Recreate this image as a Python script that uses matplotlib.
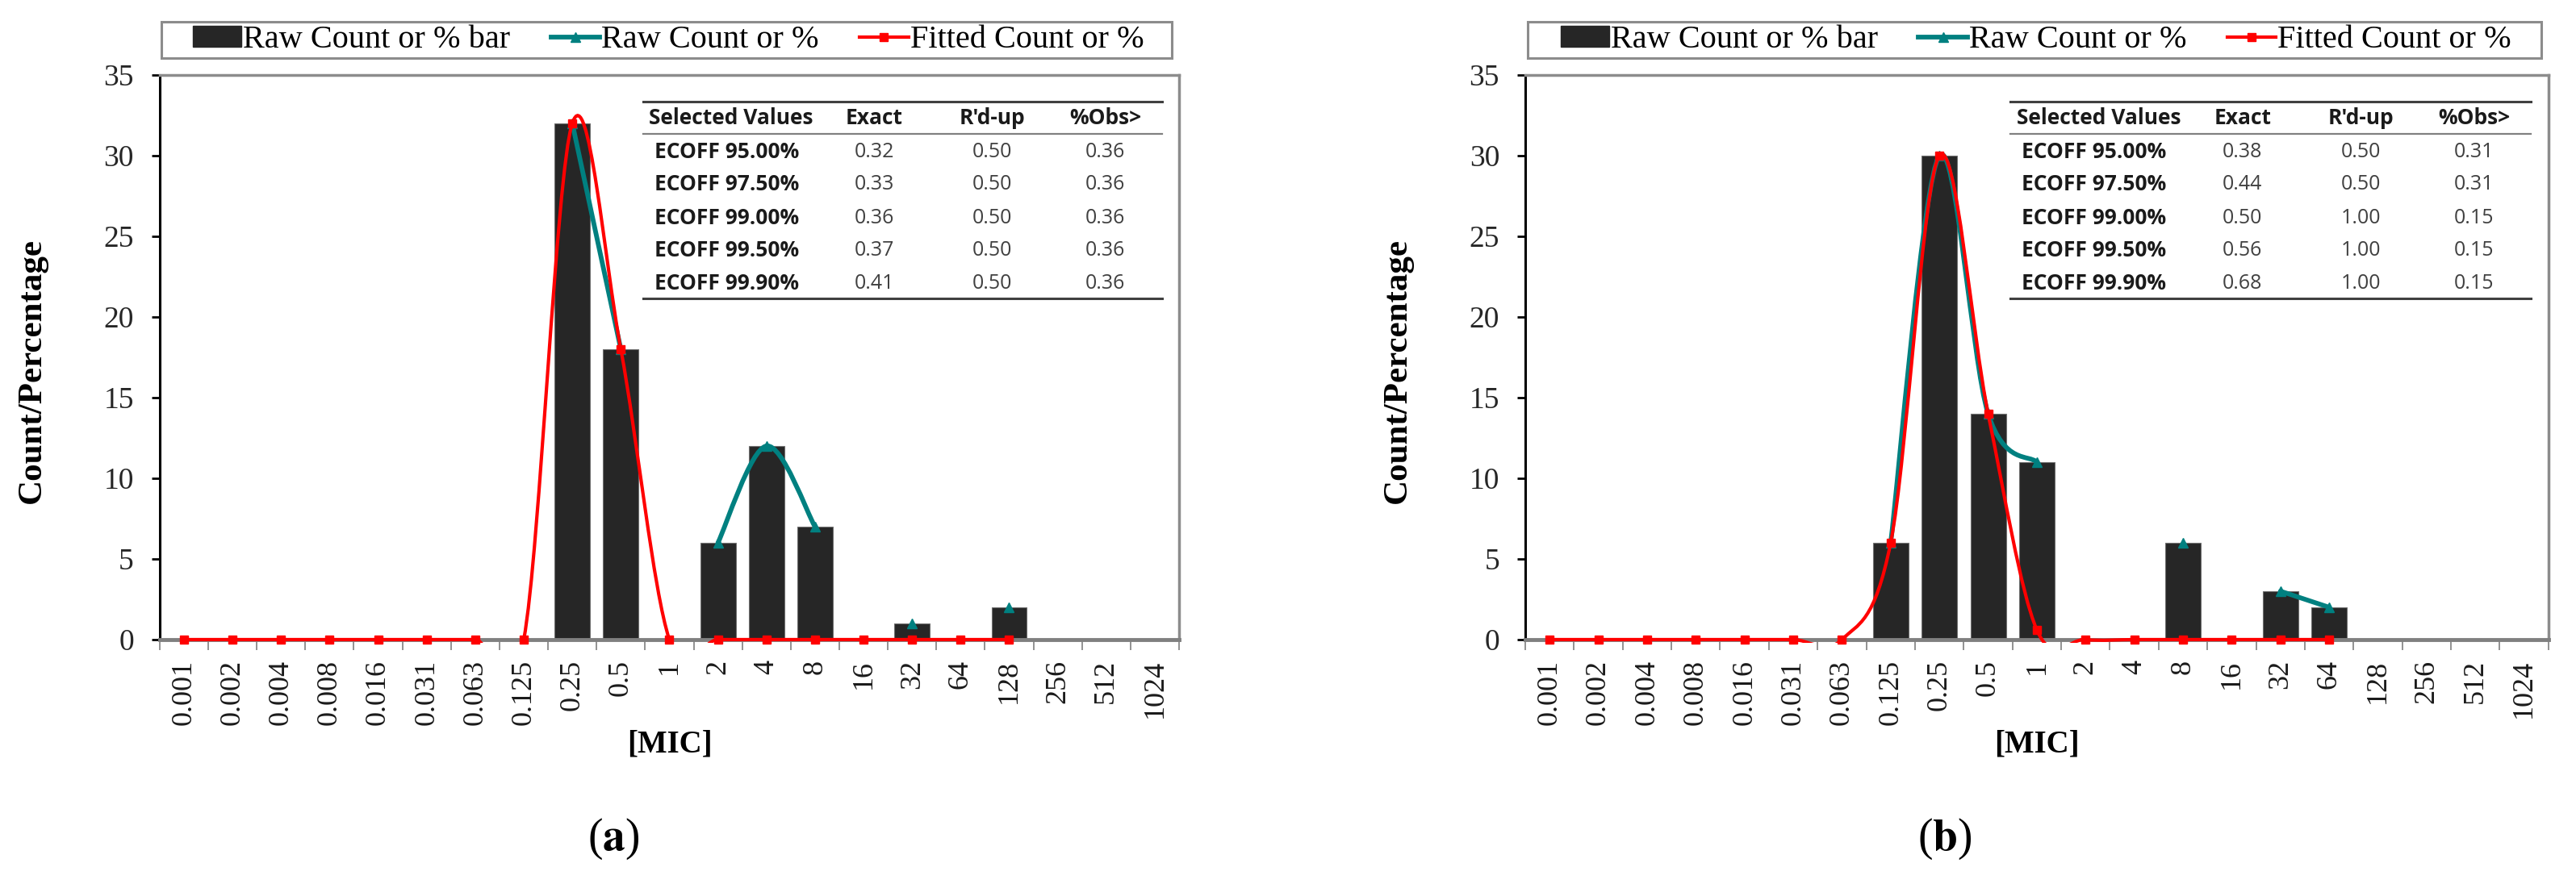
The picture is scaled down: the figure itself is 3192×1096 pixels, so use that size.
import numpy as np
import matplotlib
matplotlib.use("Agg")
import matplotlib.pyplot as plt
from matplotlib.path import Path
from matplotlib.patches import PathPatch, Rectangle, Patch
from matplotlib.lines import Line2D

plt.rcParams["font.family"] = ["Liberation Serif", "DejaVu Serif"]
plt.rcParams["mathtext.fontset"] = "stix"

# MIC categories (x axis)
mic_labels = ["0.001", "0.002", "0.004", "0.008", "0.016", "0.031", "0.063",
              "0.125", "0.25", "0.5", "1", "2", "4", "8", "16", "32", "64",
              "128", "256", "512", "1024"]

# panel (a)
raw_a = [0, 0, 0, 0, 0, 0, 0, 0, 32, 18, 0, 6, 12, 7, 0, 1, 0, 2, 0, 0, 0]
fit_a = [0, 0, 0, 0, 0, 0, 0, 0, 32, 18, 0, 0, 0, 0, 0, 0, 0, 0]
# panel (b)
raw_b = [0, 0, 0, 0, 0, 0, 0, 6, 30, 14, 11, 0, 0, 6, 0, 3, 2, 0, 0, 0, 0]
fit_b = [0, 0, 0, 0, 0, 0, 0, 6, 30, 14, 0.6, 0, 0, 0, 0, 0, 0]

# ECOFF tables
table_head = ["Selected Values", "Exact", "R'd-up", "%Obs>"]
ecoff_rows = ["ECOFF 95.00%", "ECOFF 97.50%", "ECOFF 99.00%", "ECOFF 99.50%", "ECOFF 99.90%"]
exact_a = ["0.32", "0.33", "0.36", "0.37", "0.41"]
rdup_a = ["0.50", "0.50", "0.50", "0.50", "0.50"]
obs_a = ["0.36", "0.36", "0.36", "0.36", "0.36"]
exact_b = ["0.38", "0.44", "0.50", "0.56", "0.68"]
rdup_b = ["0.50", "0.50", "1.00", "1.00", "1.00"]
obs_b = ["0.31", "0.31", "0.15", "0.15", "0.15"]

legend_labels = ["Raw Count or % bar", "Raw Count or %", "Fitted Count or %"]

BAR = "#262626"
TEAL = "#008080"
RED = "#ff0000"
FRAME = "#8c8c8c"
TFONT = ["Open Sans", "DejaVu Sans"]


def smooth_path(xs, ys):
    # excel-like smoothed line: cubic bezier through the points (catmull-rom)
    pts = np.column_stack([xs, ys]).astype(float)
    n = len(pts)
    verts = [tuple(pts[0])]
    codes = [Path.MOVETO]
    for i in range(n - 1):
        p0 = pts[i - 1] if i > 0 else pts[i]
        p1, p2 = pts[i], pts[i + 1]
        p3 = pts[i + 2] if i + 2 < n else pts[i + 1]
        c1 = p1 + (p2 - p0) / 6.0
        c2 = p2 - (p3 - p1) / 6.0
        verts += [tuple(c1), tuple(c2), tuple(p2)]
        codes += [Path.CURVE4] * 3
    return Path(verts, codes)


def draw_smooth(ax, x, y, color, lw, z):
    # split into runs of valid points
    clip = Rectangle((0, -0.006), 1, 1.006, transform=ax.transAxes)
    run = []
    for xi, yi in list(zip(x, y)) + [(None, np.nan)]:
        if yi is not None and not np.isnan(yi):
            run.append((xi, yi))
            continue
        if len(run) > 1:
            rx, ry = zip(*run)
            pp = PathPatch(smooth_path(rx, ry), facecolor="none", edgecolor=color,
                           lw=lw, zorder=z, capstyle="round", joinstyle="round")
            ax.add_patch(pp)
            pp.set_clip_path(clip)
        run = []


def draw_table(ax, exact, rdup, obs):
    tx0, tx1 = 0.474, 0.983
    tw = tx1 - tx0
    kw = dict(transform=ax.transAxes, clip_on=False)
    ax.plot([tx0, tx1], [0.953, 0.953], color="#404040", lw=2.2, **kw)
    ax.plot([tx0, tx1], [0.896, 0.896], color="#808080", lw=1.6, **kw)
    ax.plot([tx0, tx1], [0.604, 0.604], color="#404040", lw=2.2, **kw)
    ycol = [0.446, 0.673, 0.891]
    ax.text(tx0 + 0.012 * tw, 0.923, table_head[0], ha="left", va="center",
            fontsize=19, fontweight="bold", family=TFONT, color="#1a1a1a", transform=ax.transAxes)
    for j in range(3):
        ax.text(tx0 + ycol[j] * tw, 0.923, table_head[j + 1], ha="center", va="center",
                fontsize=19, fontweight="bold", family=TFONT, color="#1a1a1a", transform=ax.transAxes)
    row_y = [0.864, 0.806, 0.747, 0.689, 0.631]
    for i, yy in enumerate(row_y):
        ax.text(tx0 + 0.022 * tw, yy, ecoff_rows[i], ha="left", va="center",
                fontsize=19, fontweight="bold", family=TFONT, color="#1a1a1a", transform=ax.transAxes)
        for j, col in enumerate([exact, rdup, obs]):
            ax.text(tx0 + ycol[j] * tw, yy, col[i], ha="center", va="center",
                    fontsize=18, family=TFONT, color="#404040", transform=ax.transAxes)


def draw_panel(ax, raw, fit, exact, rdup, obs):
    x = np.arange(len(mic_labels))
    raw = np.array(raw, dtype=float)
    ax.bar(x, raw, width=0.73, color=BAR, edgecolor="#6f6f6f", linewidth=0.8, zorder=2)

    # raw count line: zeros are blank in the source workbook
    raw_line = np.where(raw > 0, raw, np.nan)
    draw_smooth(ax, x, raw_line, TEAL, 4.2, 3)
    ax.plot(x, raw_line, ls="none", marker="^", ms=9, color=TEAL, zorder=3.5, clip_on=False)

    # fitted line
    xf = x[:len(fit)]
    draw_smooth(ax, xf, np.array(fit, dtype=float), RED, 3.0, 4)
    ax.plot(xf, fit, ls="none", marker="s", ms=7.5, color=RED, zorder=4.5, clip_on=False)

    ax.set_xlim(-0.5, len(mic_labels) - 0.5)
    ax.set_ylim(0, 35)
    ax.set_yticks(range(0, 36, 5))
    ax.set_xticks(x)
    ax.set_xticklabels(mic_labels, rotation=90)
    ax.set_xticks(np.arange(-0.5, len(mic_labels)), minor=True)
    ax.tick_params(axis="x", which="major", length=0, pad=18, labelsize=26, labelcolor="#1a1a1a")
    ax.tick_params(axis="x", which="minor", length=9, width=1.2, color="#7f7f7f")
    ax.tick_params(axis="y", length=7, width=2, pad=16, labelsize=27, labelcolor="#262626")

    ax.spines["left"].set_color("black")
    ax.spines["left"].set_linewidth(2.2)
    ax.spines["bottom"].set_color("#808080")
    ax.spines["bottom"].set_linewidth(3.5)
    for s in ["top", "right"]:
        ax.spines[s].set_color(FRAME)
        ax.spines[s].set_linewidth(2.5)

    ax.text(-0.125, 0.476, "Count/Percentage", rotation=90, ha="center", va="center",
            fontsize=31, fontweight="bold", transform=ax.transAxes)
    ax.text(0.5, -0.186, "[MIC]", ha="center", va="center", fontsize=28,
            fontweight="bold", transform=ax.transAxes)

    # legend with an Excel-style box drawn separately
    ax.add_patch(Rectangle((0.002, 1.030), 0.991, 0.064, transform=ax.transAxes,
                           facecolor="white", edgecolor=FRAME, lw=2.2, clip_on=False, zorder=5))
    handles = [Patch(facecolor=BAR, edgecolor=BAR),
               Line2D([], [], color=TEAL, lw=4.2, marker="^", ms=9),
               Line2D([], [], color=RED, lw=3.0, marker="s", ms=7.5)]
    leg = ax.legend(handles, legend_labels, loc="center", bbox_to_anchor=(0.499, 1.062),
                    ncol=3, fontsize=29, frameon=False,
                    borderpad=0.1, handlelength=1.5, handletextpad=0.05,
                    columnspacing=1.25, handleheight=0.6, borderaxespad=0)
    leg.set_zorder(6)

    draw_table(ax, exact, rdup, obs)


fig = plt.figure(figsize=(31.92, 10.96), dpi=100)
ax_a = fig.add_axes([0.062, 0.2765, 0.3957, 0.6387])
ax_b = fig.add_axes([0.5921, 0.2765, 0.3972, 0.6387])

draw_panel(ax_a, raw_a, fit_a, exact_a, rdup_a, obs_a)
draw_panel(ax_b, raw_b, fit_b, exact_b, rdup_b, obs_b)

fig.text(0.238, 0.051, r"($\mathbf{a}$)", ha="center", va="center", fontsize=40)
fig.text(0.755, 0.051, r"($\mathbf{b}$)", ha="center", va="center", fontsize=40)

fig.savefig("out.png", dpi=100)
